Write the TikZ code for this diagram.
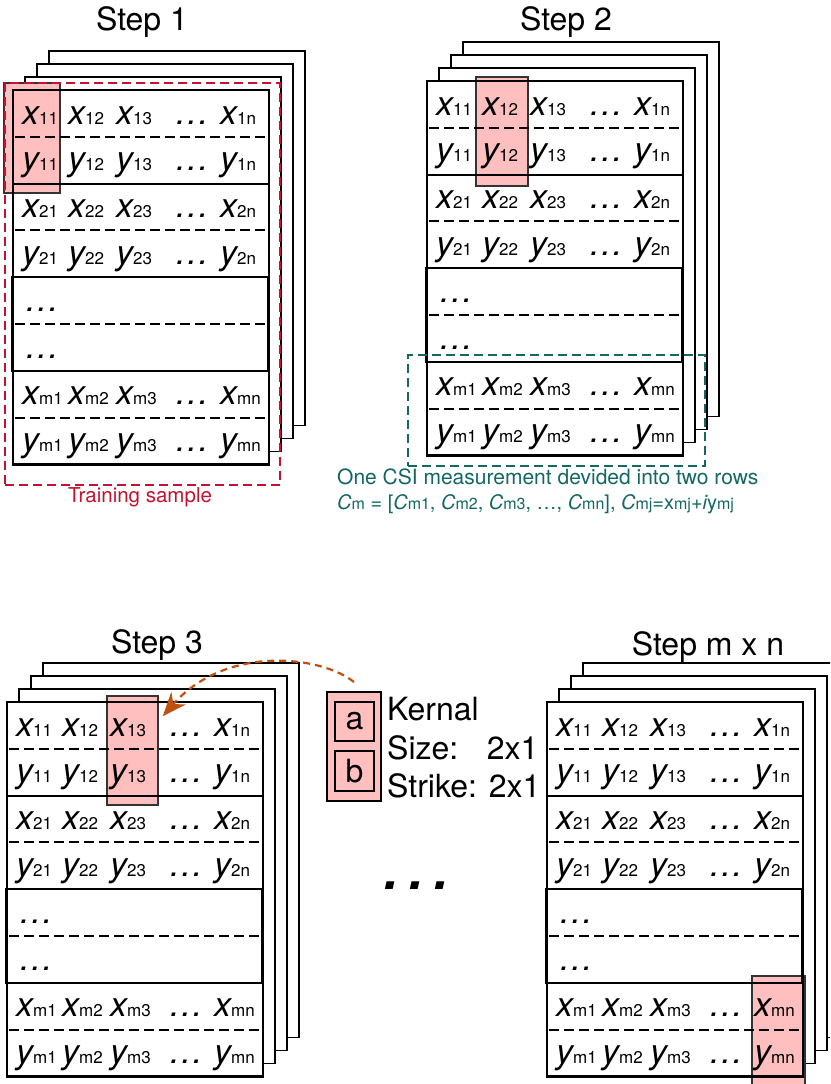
\documentclass[tikz,border=0pt]{standalone}
\usepackage{fontspec}
\setmainfont{TeX Gyre Heros}
\usetikzlibrary{arrows.meta}
\definecolor{hlpink}{RGB}{255,191,191}
\definecolor{trainred}{RGB}{196,18,48}
\definecolor{csiteal}{RGB}{20,104,100}
\definecolor{arroworange}{RGB}{192,80,16}
\newcommand\ent[2]{{\itshape #1}{\fontsize{17}{17}\selectfont #2}}
\newcommand\csub[1]{{\fontsize{16}{16}\selectfont #1}}
\newcommand\rowh{46.8}
\tikzset{
  sheet/.style={fill=white, draw=black, line width=1.8pt},
  front/.style={draw=black, line width=2.4pt},
  midblock/.style={draw=black, line width=1.8pt},
  rowsep/.style={draw=black, line width=2.2pt},
  rowdash/.style={draw=black, line width=2pt, dash pattern=on 10pt off 5pt},
  cell/.style={anchor=base west, inner sep=0pt, font=\fontsize{34}{34}\selectfont},
  hlbox/.style={fill=hlpink, draw=black!80, line width=1.4pt, inner sep=0pt},
  title/.style={anchor=base, inner sep=0pt, font=\fontsize{32}{32}\selectfont},
  ktext/.style={anchor=base west, inner sep=0pt, font=\fontsize{32}{32}\selectfont},
  karrow/.style={draw=arroworange, line width=2.2pt, dash pattern=on 7pt off 5pt, -{Stealth[length=24pt,width=19pt]}},
}
\newcommand\panel[4]{%
\begin{scope}[shift={(#2,#3)}]
  \foreach \kk in {3,2,1} {\filldraw[sheet] ({12*\kk},{-13*\kk}) rectangle ({12*\kk+256},{374.4-13*\kk});}
  \fill[white] (0,0) rectangle (256,374.4);
  #4
  \draw[front] (0,0) rectangle (256,374.4);
  \draw[midblock] (-1.5,{4*\rowh}) rectangle (255,{6*\rowh});
  \foreach \rw in {2,4,6} {\draw[rowsep] (0,{\rw*\rowh}) -- (256,{\rw*\rowh});}
  \foreach \rw in {1,3,5,7} {\draw[rowdash] (2,{\rw*\rowh}) -- (252,{\rw*\rowh});}
  \foreach \ri/\lt/\pre in {1/x/1,2/y/1,3/x/2,4/y/2,7/x/m,8/y/m} {
    \foreach \ci/\cx/\cs in {1/9/1,2/55/2,3/103/3,5/207/n} {
      \node[cell] (#1-\ri-\ci) at (\cx,{(\ri-1)*\rowh+34}) {\ent{\lt}{\pre\cs}};
    }
    \node[cell] (#1-\ri-4) at (162,{(\ri-1)*\rowh+34}) {\itshape …};
  }
  \node[cell] (#1-5-1) at (12,{4*\rowh+34}) {\itshape …};
  \node[cell] (#1-6-1) at (12,{5*\rowh+34}) {\itshape …};
\end{scope}}

\begin{document}
\begin{tikzpicture}[x=1pt,y=-1pt]
\useasboundingbox (0,0) rectangle (830,1084);
\clip (0,0) rectangle (830,1084);
\fill[white] (0,0) rectangle (830,1084);

% titles
\node[title] (t1) at (142,30) {Step 1};
\node[title] (t2) at (566,30) {Step 2};
\node[title] (t3) at (157,653) {Step 3};
\node[title] (t4) at (708,655) {Step m x n};

% panels
\panel{sa}{13}{90}{\node[hlbox, minimum width=56pt, minimum height=110pt] (sahl) at (19,48) {};}
\panel{sb}{427}{81}{\node[hlbox, minimum width=52pt, minimum height=109pt] (sbhl) at (75,50.5) {};}
\panel{sc}{7}{702}{\node[hlbox, minimum width=51pt, minimum height=109pt] (schl) at (125.5,48.5) {};}
\panel{sd}{547}{702}{\node[hlbox, minimum width=53pt, minimum height=116pt] (sdhl) at (231.5,332) {};}

% training sample frame
\node[draw=trainred, line width=1.8pt, dash pattern=on 9pt off 5pt, minimum width=275pt, minimum height=402pt, inner sep=0pt] (train) at (142.5,284) {};
\node[anchor=base, inner sep=0pt, text=trainred, font=\fontsize{20.5}{20.5}\selectfont] (trainlbl) at (140,502) {Training sample};

% CSI frame
\node[draw=csiteal, line width=1.8pt, dash pattern=on 9pt off 5pt, minimum width=297pt, minimum height=111pt, inner sep=0pt] (csi) at (556.5,410.5) {};
\node[anchor=base west, inner sep=0pt, text=csiteal, font=\fontsize{21}{21}\selectfont] (csil1) at (337,484) {One CSI measurement devided into two rows};
\node[anchor=base west, inner sep=0pt, text=csiteal, font=\fontsize{20}{20}\selectfont] (csil2) at (337,509)
  {{\itshape C}\csub{m} = [{\itshape C}\csub{m1}, {\itshape C}\csub{m2}, {\itshape C}\csub{m3}, …, {\itshape C}\csub{mn}], {\itshape C}\csub{mj}=x\csub{mj}+{\itshape i}y\csub{mj}};

% kernel
\node[fill=hlpink, draw=black, line width=2pt, minimum width=54pt, minimum height=109pt, inner sep=0pt] (kern) at (354,746.5) {};
\node[fill=hlpink, draw=black, line width=2pt, minimum width=39pt, minimum height=39pt, inner sep=0pt, font=\fontsize{32}{32}\selectfont] (ka) at (354.5,721.5) {a};
\node[fill=hlpink, draw=black, line width=2pt, minimum width=39pt, minimum height=40pt, inner sep=0pt, font=\fontsize{32}{32}\selectfont] (kb) at (354.5,771) {b};
\node[ktext] (kt1) at (387,720) {Kernal};
\node[ktext] (kt2) at (387,759) {\makebox[3.112em][l]{Size:}2x1};
\node[ktext] (kt3) at (387,797) {Strike: 2x1};

% big ellipsis
\node[anchor=base, inner sep=0pt, font=\fontsize{75}{75}\selectfont\itshape] (gap) at (418,889) {…};

% arrow
\draw[karrow] ([yshift=9pt]kern.north) .. controls (320,655) and (225,645) .. ([xshift=4pt,yshift=-21pt]schl.north east);
\end{tikzpicture}
\end{document}
